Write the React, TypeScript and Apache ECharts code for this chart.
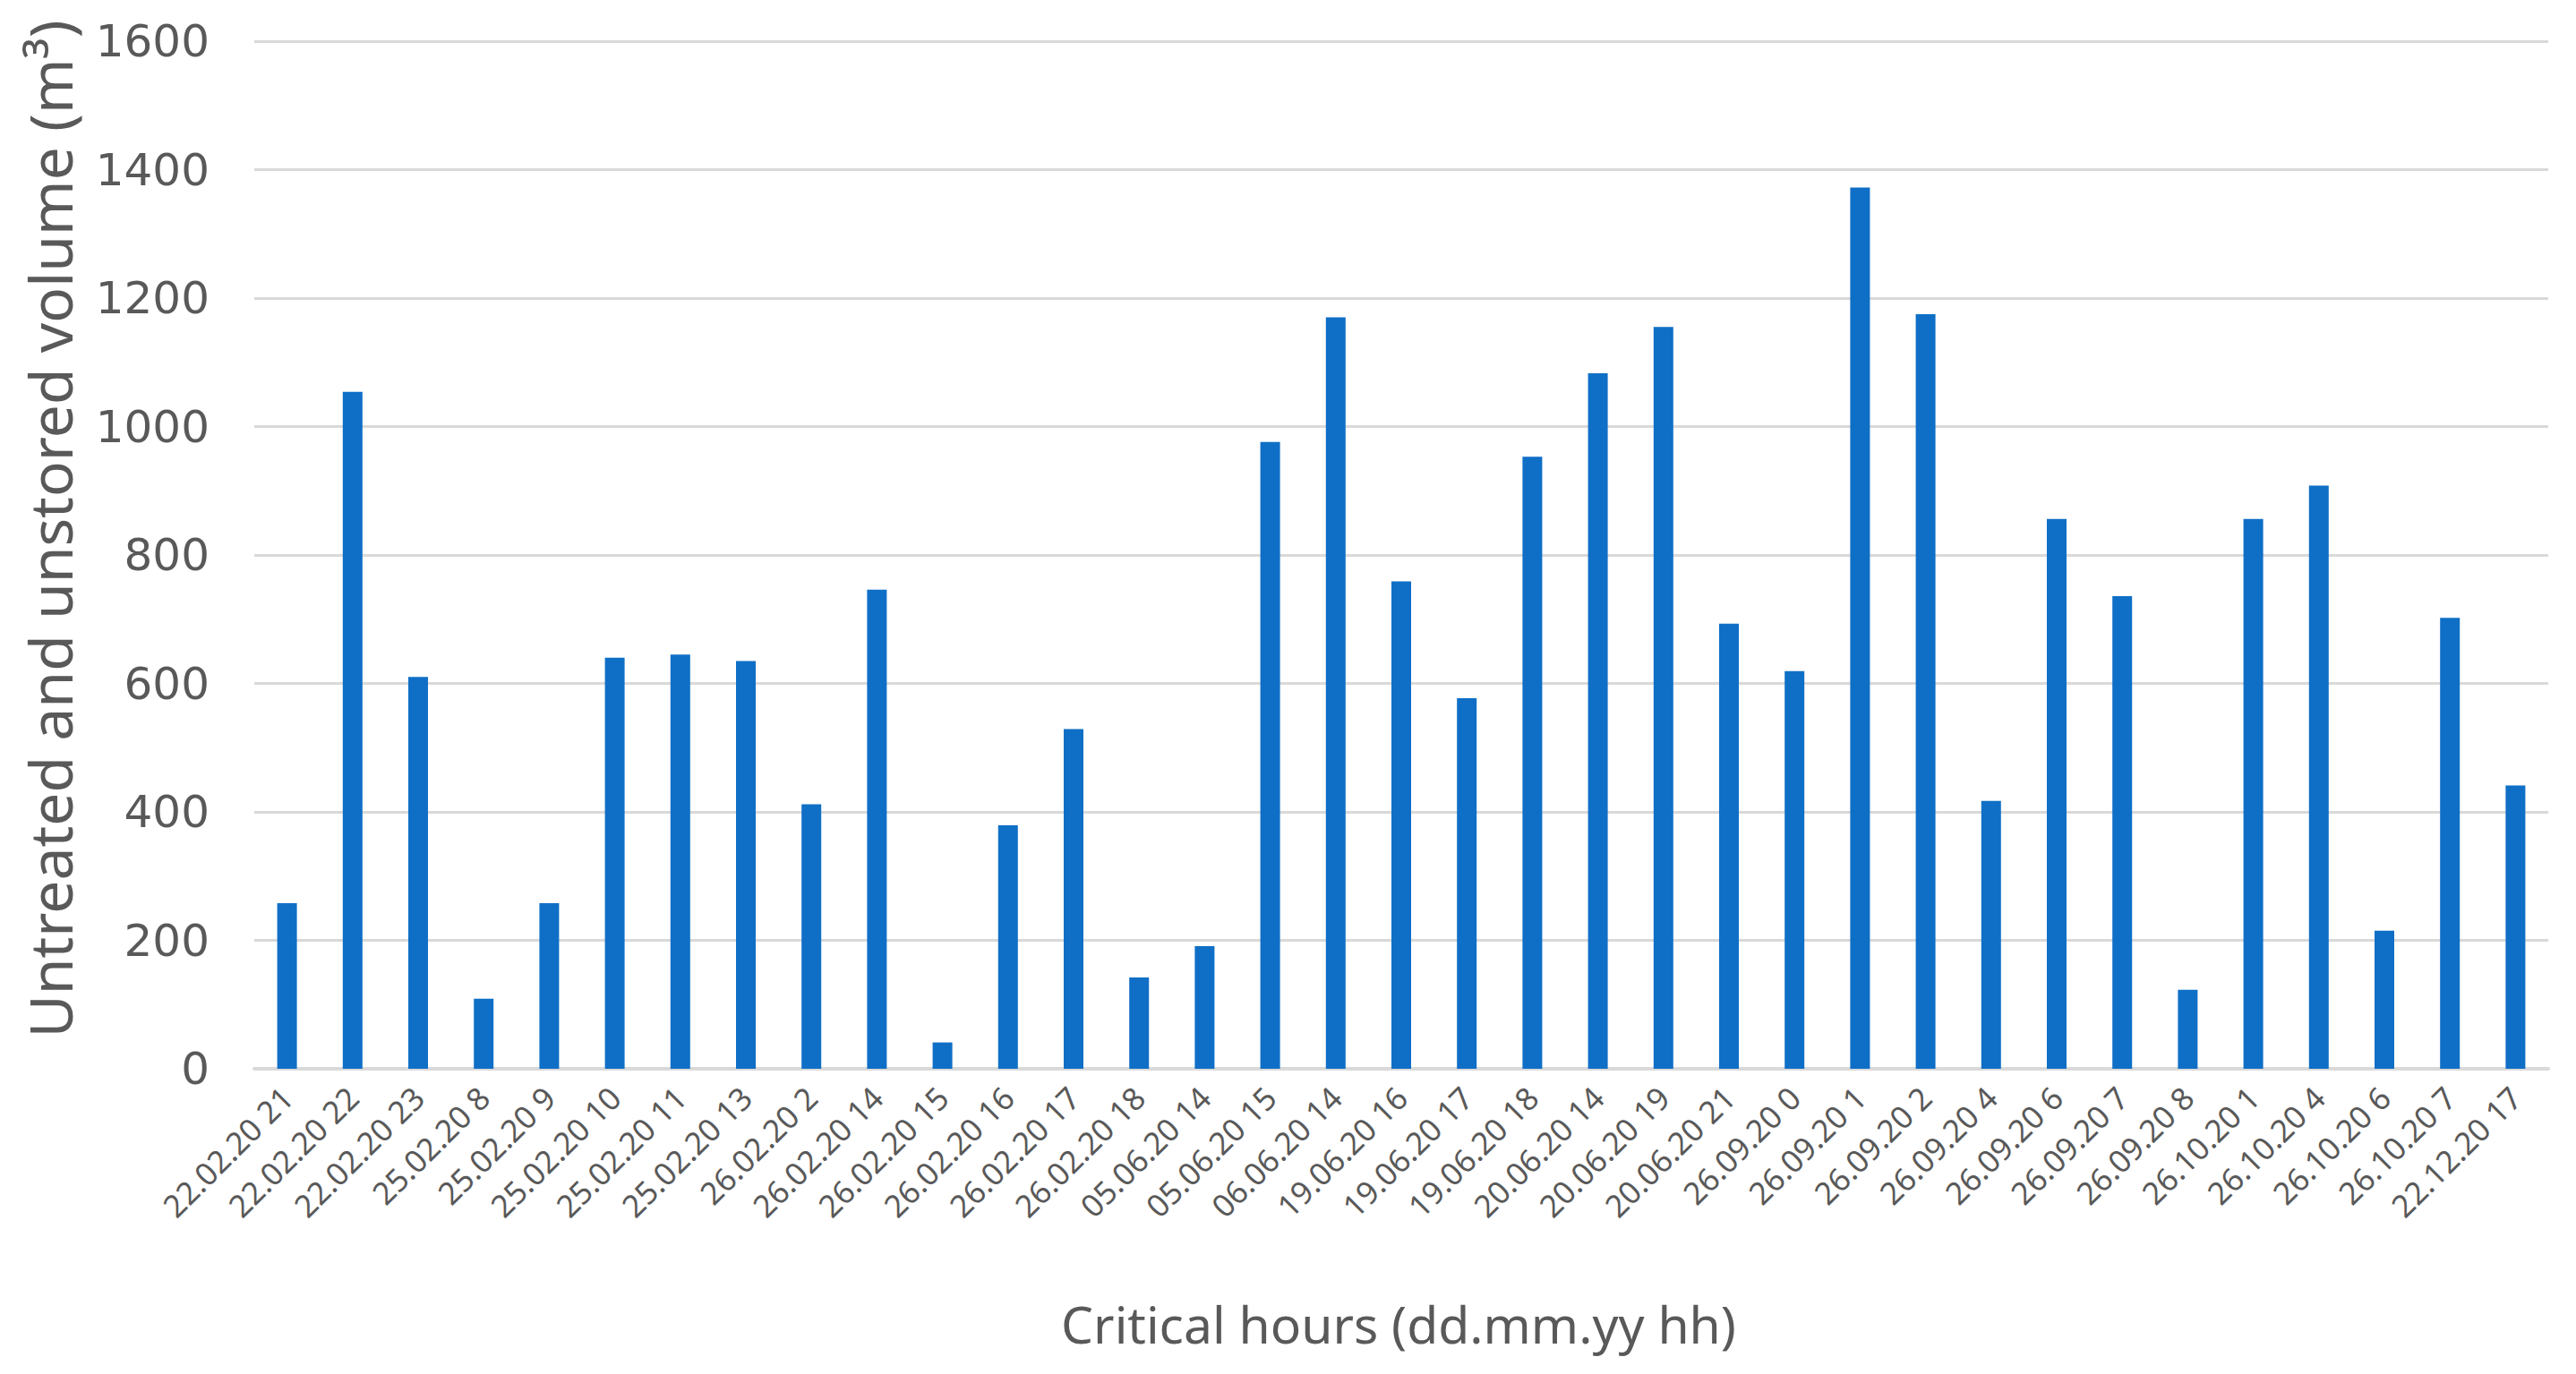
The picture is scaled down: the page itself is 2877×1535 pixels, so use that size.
import React, { useEffect, useRef } from "react";
import * as echarts from "echarts";

const categories = [
  "22.02.20 21", "22.02.20 22", "22.02.20 23", "25.02.20 8", "25.02.20 9",
  "25.02.20 10", "25.02.20 11", "25.02.20 13", "26.02.20 2", "26.02.20 14",
  "26.02.20 15", "26.02.20 16", "26.02.20 17", "26.02.20 18", "05.06.20 14",
  "05.06.20 15", "06.06.20 14", "19.06.20 16", "19.06.20 17", "19.06.20 18",
  "20.06.20 14", "20.06.20 19", "20.06.20 21", "26.09.20 0", "26.09.20 1",
  "26.09.20 2", "26.09.20 4", "26.09.20 6", "26.09.20 7", "26.09.20 8",
  "26.10.20 1", "26.10.20 4", "26.10.20 6", "26.10.20 7", "22.12.20 17",
];

const volumes = [
  258, 1054, 610, 109, 258, 640, 645, 635, 412, 746,
  41, 379, 529, 142, 191, 976, 1170, 759, 577, 953,
  1083, 1155, 693, 619, 1372, 1175, 417, 856, 736, 123,
  856, 908, 215, 702, 441,
];

const yMin = 0;
const yMax = 1600;
const yInterval = 200;

const yAxisTitle = "Untreated and unstored volume (m³)";
const xAxisTitle = "Critical hours (dd.mm.yy hh)";

export default function App() {
  const ref = useRef<HTMLDivElement>(null);

  useEffect(() => {
    document.body.style.margin = "0";
    document.body.style.overflow = "hidden";
    if (!ref.current) return;
    const chart = echarts.init(ref.current, null, { renderer: "svg" });
    chart.setOption({
      animation: false,
      backgroundColor: "#ffffff",
      grid: { left: 284, right: 31, top: 46, bottom: 341, containLabel: false },
      xAxis: {
        type: "category",
        data: categories,
        axisTick: { show: false },
        axisLine: { show: true, lineStyle: { color: "#d9d9d9", width: 4 } },
        axisLabel: {
          interval: 0,
          rotate: 45,
          fontSize: 35,
          color: "#595959",
          margin: 26,
          fontFamily: "Noto Sans",
        },
      },
      yAxis: {
        type: "value",
        min: yMin,
        max: yMax,
        interval: yInterval,
        axisLine: { show: false },
        axisTick: { show: false },
        axisLabel: {
          fontSize: 50,
          color: "#595959",
          margin: 50,
          fontFamily: "DejaVu Sans",
          formatter: (v: number) => String(v),
        },
        splitLine: { lineStyle: { color: "#d9d9d9", width: 3 } },
      },
      series: [
        {
          type: "bar",
          data: volumes,
          barWidth: 22,
          itemStyle: { color: "#0F6FC6" },
        },
      ],
      graphic: [
        {
          type: "text",
          x: 55,
          y: 591,
          rotation: Math.PI / 2,
          style: {
            text: yAxisTitle,
            font: "66px 'Noto Sans'",
            fill: "#595959",
            textAlign: "center",
            textVerticalAlign: "middle",
          },
        },
        {
          type: "text",
          x: 1562,
          y: 1479,
          style: {
            text: xAxisTitle,
            font: "57px 'Noto Sans'",
            fill: "#595959",
            textAlign: "center",
            textVerticalAlign: "middle",
          },
        },
      ],
    });
    return () => chart.dispose();
  }, []);

  return <div ref={ref} style={{ width: 2877, height: 1535 }} />;
}
